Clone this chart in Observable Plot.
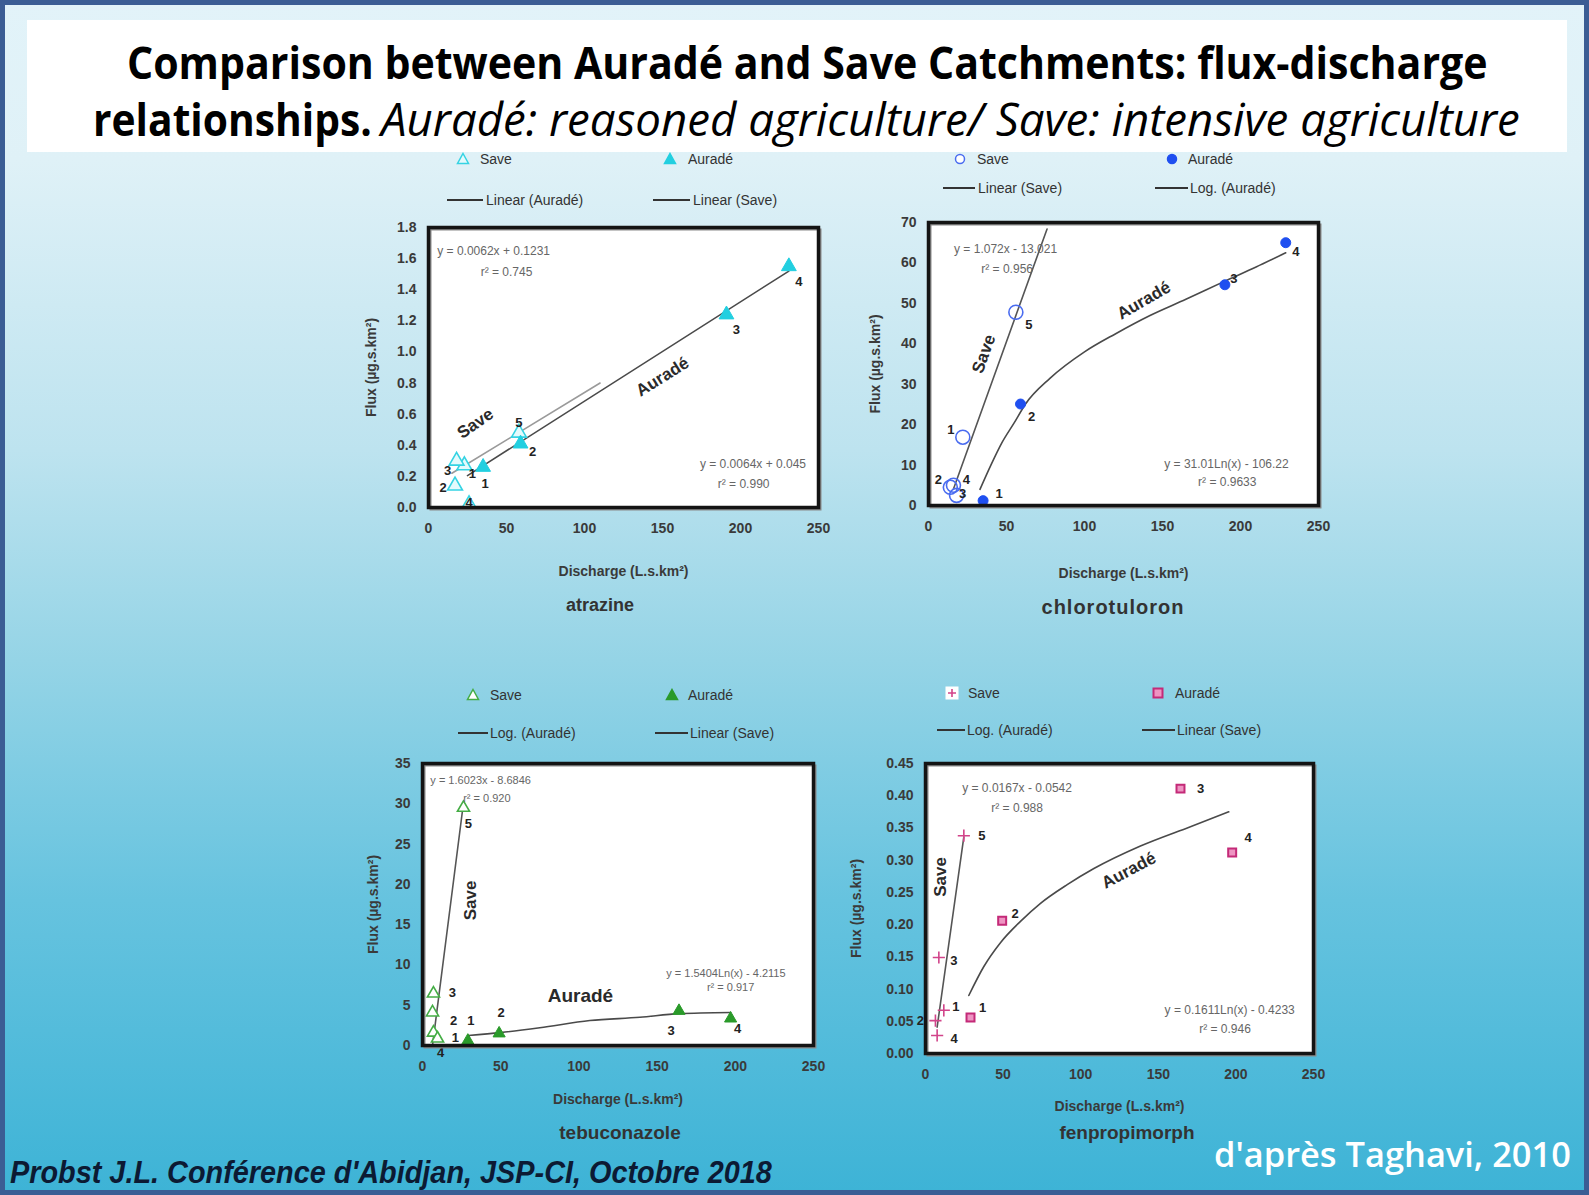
<!DOCTYPE html>
<html><head><meta charset="utf-8">
<script src="https://cdn.jsdelivr.net/npm/d3@7"></script>
<script src="https://cdn.jsdelivr.net/npm/@observablehq/plot@0.6"></script>
<style>
html,body{margin:0;padding:0;}
body{width:1589px;height:1195px;overflow:hidden;}
#slide{position:relative;width:1589px;height:1195px;overflow:hidden;
 background:linear-gradient(to bottom,#e2f3f9 0px,#dff1f7 160px,#bde3ef 450px,#95d4e6 660px,#66c3df 900px,#3db3d6 1195px);
 font-family:"Liberation Sans",Arial,sans-serif;}
.abs{position:absolute;}
.lg{position:absolute;font-size:14px;color:#333;white-space:nowrap;line-height:16px;}
.sub{position:absolute;font-weight:bold;color:#333;transform:translate(-50%,-50%);white-space:nowrap;}
</style></head><body><div id="slide"></div>
<script>
// ---------- DATA ----------
const xTicks = [0, 50, 100, 150, 200, 250];
const axisLabelX = "Discharge (L.s.km²)";
const axisLabelY = "Flux (µg.s.km²)";

// atrazine
const atrSaveQ = [23, 17, 18, 26, 58];
const atrSaveF = [0.27, 0.14, 0.30, 0.02, 0.48];
const atrSaveN = ["1", "2", "3", "4", "5"];
const atrAurQ = [35, 59, 191, 231];
const atrAurF = [0.26, 0.41, 1.24, 1.55];
const atrAurN = ["1", "2", "3", "4"];
const atrSaveFitQ = [15, 110];
const atrSaveFitF = [0.22, 0.80];
const atrAurFitQ = [25, 231];
const atrAurFitF = [0.205, 1.52];
const atrTicks = [0, 0.2, 0.4, 0.6, 0.8, 1.0, 1.2, 1.4, 1.6, 1.8];
const atrEq = ["y = 0.0062x + 0.1231", "r² = 0.745", "y = 0.0064x + 0.045", "r² = 0.990"];

// chlorotoluron
const chlSaveQ = [22, 14, 18, 16, 56];
const chlSaveF = [16.9, 4.5, 2.5, 5.0, 47.8];
const chlSaveN = ["1", "2", "3", "4", "5"];
const chlAurQ = [35, 59, 190, 229];
const chlAurF = [1.2, 25.1, 54.6, 65.0];
const chlAurN = ["1", "2", "3", "4"];
const chlSaveFitQ = [16, 76];
const chlSaveFitF = [4.1, 68.4];
const chlAurFitQ = [33, 40, 47, 55, 62, 78, 100, 120, 142, 165, 190, 210, 229];
const chlAurFitF = [4, 10, 15.5, 20.5, 25, 31.5, 38, 42.5, 47, 51, 55.5, 59, 62.5];
const chlTicks = [0, 10, 20, 30, 40, 50, 60, 70];
const chlEq = ["y = 1.072x - 13.021", "r² = 0.956", "y = 31.01Ln(x) - 106.22", "r² = 0.9633"];

// tebuconazole
const tebSaveQ = [7, 6.4, 7, 9.6, 26.2];
const tebSaveF = [1.6, 4.1, 6.45, 0.87, 29.5];
const tebSaveN = ["1", "2", "3", "4", "5"];
const tebAurQ = [29, 49, 164, 197];
const tebAurF = [0.6, 1.5, 4.3, 3.35];
const tebAurN = ["1", "2", "3", "4"];
const tebSaveFitQ = [6.4, 25.6];
const tebSaveFitF = [0, 29.2];
const tebAurFitQ = [29.4, 50, 75, 107, 139, 164, 197];
const tebAurFitF = [1.24, 1.6, 2.2, 3.1, 3.5, 3.95, 4.1];
const tebTicks = [0, 5, 10, 15, 20, 25, 30, 35];
const tebEq = ["y = 1.6023x - 8.6846", "r² = 0.920", "y = 1.5404Ln(x) - 4.2115", "r² = 0.917"];

// fenpropimorph
const fenSaveQ = [11.8, 6.4, 8.6, 7.5, 24.7];
const fenSaveF = [0.067, 0.051, 0.149, 0.028, 0.338];
const fenSaveN = ["1", "2", "3", "4", "5"];
const fenAurQ = [29, 49.4, 164.3, 197.6];
const fenAurF = [0.056, 0.206, 0.411, 0.312];
const fenAurN = ["1", "2", "3", "4"];
const fenSaveFitQ = [7.5, 24.7];
const fenSaveFitF = [0.041, 0.336];
const fenAurFitQ = [27.9, 37.6, 48.3, 61.2, 74.1, 91.3, 108.5, 138.5, 170.7, 195.4];
const fenAurFitF = [0.090, 0.135, 0.172, 0.205, 0.233, 0.262, 0.287, 0.322, 0.352, 0.375];
const fenTicks = [0, 0.05, 0.10, 0.15, 0.20, 0.25, 0.30, 0.35, 0.40, 0.45];
const fenEq = ["y = 0.0167x - 0.0542", "r² = 0.988", "y = 0.1611Ln(x) - 0.4233", "r² = 0.946"];

const chemNames = ["atrazine", "chlorotuloron", "tebuconazole", "fenpropimorph"];
const seriesNames = ["Save", "Auradé"];

// ---------- BUILD ----------
const slide = document.getElementById("slide");
const zip = (xs, ys, ns) => xs.map((x, i) => ({x, y: ys[i], n: ns ? ns[i] : ""}));
const ML = 90, MR = 20, MT = 15, MB = 90;

function panel(s) {
  const save = zip(s.saveQ, s.saveF, s.saveN);
  const aur = zip(s.aurQ, s.aurF, s.aurN);
  const labelMarks = [];
  save.forEach((d, i) => labelMarks.push(Plot.text([d], {x: "x", y: "y", text: "n", dx: s.saveOff[i][0], dy: s.saveOff[i][1], fontSize: 13, fontWeight: "bold", fill: "#222"})));
  aur.forEach((d, i) => labelMarks.push(Plot.text([d], {x: "x", y: "y", text: "n", dx: s.aurOff[i][0], dy: s.aurOff[i][1], fontSize: 13, fontWeight: "bold", fill: "#222"})));
  const annMarks = s.ann.map(a => Plot.text([a], {x: "x", y: "y", text: "t", rotate: a.rot || 0, textAnchor: a.anchor || "middle", fontSize: a.size, fontWeight: a.bold ? "bold" : "normal", fill: a.bold ? "#2a2a2a" : "#666"}));
  const svg = Plot.plot({
    width: s.fw + ML + MR, height: s.fh + MT + MB,
    marginLeft: ML, marginRight: MR, marginTop: MT, marginBottom: MB,
    style: {background: "transparent", fontFamily: "'Liberation Sans', Arial, sans-serif", overflow: "visible"},
    x: {domain: [0, 250]},
    y: {domain: [s.ticks[0], s.ticks[s.ticks.length - 1]]},
    marks: [
      Plot.frame({fill: "white", stroke: null}),
      Plot.line(zip(s.sfitQ, s.sfitF), {x: "x", y: "y", stroke: s.saveFitColor || "#555", strokeWidth: 1.6}),
      Plot.line(zip(s.afitQ, s.afitF), {x: "x", y: "y", stroke: "#4a4a4a", strokeWidth: 1.6, curve: "monotone-x"}),
      Plot.dot(save, {x: "x", y: "y", symbol: s.saveSym, r: s.saveR, stroke: s.saveStroke, fill: s.saveFill, strokeWidth: 1.6}),
      Plot.dot(aur, {x: "x", y: "y", symbol: s.aurSym, r: s.aurR, stroke: s.aurStroke, fill: s.aurFill, strokeWidth: s.aurSW || 1}),
      ...labelMarks,
      ...annMarks,
      Plot.frame({stroke: "#8a8a8a", strokeWidth: 2, dx: 2, dy: 2}),
      Plot.frame({stroke: "#141414", strokeWidth: 3.5}),
      Plot.axisX({ticks: xTicks, tickSize: 0, tickPadding: 16, fontSize: 14, fontWeight: "bold", fill: "#3a3a3a",
        label: axisLabelX, labelAnchor: "center", labelArrow: "none", labelOffset: s.xlo}),
      Plot.axisY({ticks: s.ticks, tickSize: 0, tickPadding: 12, tickFormat: s.fmt, fontSize: 14, fontWeight: "bold", fill: "#3a3a3a",
        label: axisLabelY, labelAnchor: "center", labelArrow: "none", labelOffset: s.ylo})
    ]
  });
  svg.style.position = "absolute";
  svg.style.left = (s.L - ML) + "px";
  svg.style.top = (s.T - MT) + "px";
  slide.appendChild(svg);
  const sub = document.createElement("div");
  sub.className = "sub";
  sub.style.left = s.subX + "px"; sub.style.top = s.subY + "px"; sub.style.fontSize = s.subSize + "px";
  if (s.subSpacing) sub.style.letterSpacing = s.subSpacing + "px";
  sub.textContent = s.name;
  slide.appendChild(sub);
}

function marker(kind, color, fill) {
  let inner = "";
  if (kind === "tri") inner = `<polygon points="7,1.5 12.5,11.5 1.5,11.5" fill="${fill}" stroke="${color}" stroke-width="1.5"/>`;
  if (kind === "circ") inner = `<circle cx="7" cy="7" r="4.5" fill="${fill}" stroke="${color}" stroke-width="1.5"/>`;
  if (kind === "sq") inner = `<rect x="2.5" y="2.5" width="9" height="9" fill="${fill}" stroke="${color}" stroke-width="2"/>`;
  if (kind === "plus") inner = `<rect x="0.5" y="0.5" width="13" height="13" fill="white" stroke="none"/><path d="M7 3v8M3 7h8" stroke="${color}" stroke-width="1.6"/>`;
  return `<svg width="14" height="14" style="display:block">${inner}</svg>`;
}
function legendItem(x, y, html) {
  const d = document.createElement("div");
  d.className = "abs"; d.style.left = (x - 7) + "px"; d.style.top = (y - 7) + "px";
  d.innerHTML = html; slide.appendChild(d);
}
function legendText(x, y, t) {
  const d = document.createElement("div");
  d.className = "lg"; d.style.left = x + "px"; d.style.top = (y - 8) + "px";
  d.textContent = t; slide.appendChild(d);
}
function legendLine(x1, x2, y) {
  const d = document.createElement("div");
  d.className = "abs";
  d.style.left = x1 + "px"; d.style.top = (y - 1) + "px"; d.style.width = (x2 - x1) + "px"; d.style.height = "2px"; d.style.background = "#333";
  slide.appendChild(d);
}

// atrazine
panel({name: chemNames[0], L: 428, T: 227, fw: 390, fh: 280, ticks: atrTicks, fmt: d3.format(".1f"),
  saveQ: atrSaveQ, saveF: atrSaveF, saveN: atrSaveN, aurQ: atrAurQ, aurF: atrAurF, aurN: atrAurN,
  sfitQ: atrSaveFitQ, sfitF: atrSaveFitF, afitQ: atrAurFitQ, afitF: atrAurFitF, saveFitColor: "#9a9a9a",
  saveSym: "triangle", saveR: 5.5, saveStroke: "#35d3e3", saveFill: "#e4fafc",
  aurSym: "triangle", aurR: 5.5, aurStroke: "#22cfe0", aurFill: "#22cfe0",
  saveOff: [[8, 8], [-12, 2], [-9, 10], [0, -2], [0, -10]], aurOff: [[2, 17], [12, 8], [10, 15], [10, 15]],
  ann: [
    {x: 30, y: 0.54, t: seriesNames[0], rot: -35, size: 17, bold: true},
    {x: 150, y: 0.84, t: seriesNames[1], rot: -32, size: 17, bold: true},
    {x: 5.6, y: 1.65, t: atrEq[0], size: 12, anchor: "start"},
    {x: 50, y: 1.51, t: atrEq[1], size: 12},
    {x: 242, y: 0.28, t: atrEq[2], size: 12, anchor: "end"},
    {x: 202, y: 0.152, t: atrEq[3], size: 12}],
  xlo: 68, ylo: 62, subX: 600, subY: 605, subSize: 18});

// chlorotoluron
panel({name: chemNames[1], L: 928, T: 222, fw: 390, fh: 283, ticks: chlTicks, fmt: d3.format("d"),
  saveQ: chlSaveQ, saveF: chlSaveF, saveN: chlSaveN, aurQ: chlAurQ, aurF: chlAurF, aurN: chlAurN,
  sfitQ: chlSaveFitQ, sfitF: chlSaveFitF, afitQ: chlAurFitQ, afitF: chlAurFitF,
  saveSym: "circle", saveR: 7, saveStroke: "#4a6cf0", saveFill: "none",
  aurSym: "circle", aurR: 5, aurStroke: "#1f4ff0", aurFill: "#1f4ff0",
  saveOff: [[-12, -7], [-12, -7], [6, -2], [13, -5], [13, 13]], aurOff: [[16, -7], [11, 13], [9, -6], [10, 9]],
  ann: [
    {x: 35.5, y: 37.5, t: seriesNames[0], rot: -70, size: 17, bold: true},
    {x: 138, y: 50.7, t: seriesNames[1], rot: -30, size: 17, bold: true},
    {x: 49.4, y: 63.5, t: chlEq[0], size: 12},
    {x: 50.4, y: 58.5, t: chlEq[1], size: 12},
    {x: 191, y: 10.3, t: chlEq[2], size: 12},
    {x: 191.5, y: 5.8, t: chlEq[3], size: 12}],
  xlo: 72, ylo: 58, subX: 1113, subY: 607, subSize: 20, subSpacing: 1});

// tebuconazole
panel({name: chemNames[2], L: 422, T: 763, fw: 391, fh: 282, ticks: tebTicks, fmt: d3.format("d"),
  saveQ: tebSaveQ, saveF: tebSaveF, saveN: tebSaveN, aurQ: tebAurQ, aurF: tebAurF, aurN: tebAurN,
  sfitQ: tebSaveFitQ, sfitF: tebSaveFitF, afitQ: tebAurFitQ, afitF: tebAurFitF,
  saveSym: "triangle", saveR: 4.5, saveStroke: "#45ad45", saveFill: "white",
  aurSym: "triangle", aurR: 4.5, aurStroke: "#2a9a2a", aurFill: "#2a9a2a",
  saveOff: [[22, 5], [21, 8], [19, -1], [3, 14], [5, 16]], aurOff: [[3, -20], [2, -21], [-8, 20], [7, 10]],
  ann: [
    {x: 30.7, y: 18, t: seriesNames[0], rot: -90, size: 17, bold: true},
    {x: 101, y: 6.2, t: seriesNames[1], size: 19, bold: true},
    {x: 5, y: 32.9, t: tebEq[0], size: 11, anchor: "start"},
    {x: 26, y: 30.7, t: tebEq[1], size: 11, anchor: "start"},
    {x: 194, y: 8.9, t: tebEq[2], size: 11},
    {x: 197, y: 7.2, t: tebEq[3], size: 11}],
  xlo: 58, ylo: 54, subX: 620, subY: 1133, subSize: 19});

// fenpropimorph
panel({name: chemNames[3], L: 925, T: 763, fw: 388, fh: 290, ticks: fenTicks, fmt: d3.format(".2f"),
  saveQ: fenSaveQ, saveF: fenSaveF, saveN: fenSaveN, aurQ: fenAurQ, aurF: fenAurF, aurN: fenAurN,
  sfitQ: fenSaveFitQ, sfitF: fenSaveFitF, afitQ: fenAurFitQ, afitF: fenAurFitF,
  saveSym: "plus", saveR: 4, saveStroke: "#d2448a", saveFill: "none",
  aurSym: "square", aurR: 4.5, aurStroke: "#c42a78", aurFill: "#ee94c2", aurSW: 2,
  saveOff: [[12, -3], [-15, 0], [15, 3], [17, 3], [18, 0]], aurOff: [[12, -10], [13, -7], [20, 0], [16, -15]],
  ann: [
    {x: 9.7, y: 0.274, t: seriesNames[0], rot: -90, size: 17, bold: true},
    {x: 131, y: 0.284, t: seriesNames[1], rot: -28, size: 17, bold: true},
    {x: 59, y: 0.411, t: fenEq[0], size: 12},
    {x: 59, y: 0.380, t: fenEq[1], size: 12},
    {x: 196, y: 0.067, t: fenEq[2], size: 12},
    {x: 193, y: 0.038, t: fenEq[3], size: 12}],
  xlo: 57, ylo: 74, subX: 1127, subY: 1133, subSize: 19});

// legends
legendItem(463, 159, marker("tri", "#35d3e3", "#e4fafc")); legendText(480, 159, seriesNames[0]);
legendItem(670, 159, marker("tri", "#22cfe0", "#22cfe0")); legendText(688, 159, seriesNames[1]);
legendLine(447, 483, 200); legendText(486, 200, "Linear (Auradé)");
legendLine(653, 690, 200); legendText(693, 200, "Linear (Save)");

legendItem(960, 159, marker("circ", "#4a6cf0", "white")); legendText(977, 159, seriesNames[0]);
legendItem(1172, 159, marker("circ", "#1f4ff0", "#1f4ff0")); legendText(1188, 159, seriesNames[1]);
legendLine(943, 975, 188); legendText(978, 188, "Linear (Save)");
legendLine(1155, 1188, 188); legendText(1190, 188, "Log. (Auradé)");

legendItem(473, 695, marker("tri", "#45ad45", "white")); legendText(490, 695, seriesNames[0]);
legendItem(672, 695, marker("tri", "#2a9a2a", "#2a9a2a")); legendText(688, 695, seriesNames[1]);
legendLine(458, 488, 733); legendText(490, 733, "Log. (Auradé)");
legendLine(655, 688, 733); legendText(690, 733, "Linear (Save)");

legendItem(952, 693, marker("plus", "#d2448a", "none")); legendText(968, 693, seriesNames[0]);
legendItem(1158, 693, marker("sq", "#c42a78", "#ee94c2")); legendText(1175, 693, seriesNames[1]);
legendLine(937, 965, 730); legendText(967, 730, "Log. (Auradé)");
legendLine(1142, 1175, 730); legendText(1177, 730, "Linear (Save)");

// title banner, footer, border (texts fitted to their measured widths with a horizontal scale)
const NS = "http://www.w3.org/2000/svg";
function fitText(svg, str, x, baseline, width, attrs) {
  const t = document.createElementNS(NS, "text");
  for (const k in attrs) t.setAttribute(k, attrs[k]);
  t.setAttribute("x", 0); t.setAttribute("y", 0);
  t.textContent = str;
  svg.appendChild(t);
  const w = t.getComputedTextLength();
  const sx = width / w;
  t.setAttribute("transform", `translate(${x},${baseline}) scale(${sx},1)`);
}
const bannerSvg = document.createElementNS(NS, "svg");
bannerSvg.setAttribute("width", 1589); bannerSvg.setAttribute("height", 160);
bannerSvg.style.cssText = "position:absolute;left:0;top:0;";
slide.appendChild(bannerSvg);
const rect = document.createElementNS(NS, "rect");
rect.setAttribute("x", 27); rect.setAttribute("y", 20); rect.setAttribute("width", 1540); rect.setAttribute("height", 132); rect.setAttribute("fill", "white");
bannerSvg.appendChild(rect);
const titleFont = {"font-family": "'Open Sans', sans-serif", "font-size": 45, fill: "#000"};
fitText(bannerSvg, "Comparison between Auradé and Save Catchments: flux-discharge", 127, 79, 1361, {...titleFont, "font-weight": 700});
fitText(bannerSvg, "relationships.", 93, 136, 279, {...titleFont, "font-weight": 700});
fitText(bannerSvg, "Auradé: reasoned agriculture/ Save: intensive agriculture", 381, 136, 1139, {...titleFont, "font-style": "italic"});

const footSvg = document.createElementNS(NS, "svg");
footSvg.setAttribute("width", 1589); footSvg.setAttribute("height", 75);
footSvg.style.cssText = "position:absolute;left:0;top:1120px;";
slide.appendChild(footSvg);
fitText(footSvg, "Probst J.L. Conférence d'Abidjan, JSP-CI, Octobre 2018", 10, 63, 762,
  {"font-family": "'Liberation Sans', Arial, sans-serif", "font-weight": 700, "font-style": "italic", "font-size": 31, fill: "#0c1a33"});
fitText(footSvg, "d'après Taghavi, 2010", 1214, 47, 357,
  {"font-family": "'Open Sans', sans-serif", "font-weight": 600, "font-size": 34, fill: "#ffffff"});

const borderDiv = document.createElement("div");
borderDiv.style.cssText = "position:absolute;left:0;top:0;width:1589px;height:1195px;box-sizing:border-box;border:5px solid #3b5d94;pointer-events:none;";
slide.appendChild(borderDiv);
</script></body></html>
